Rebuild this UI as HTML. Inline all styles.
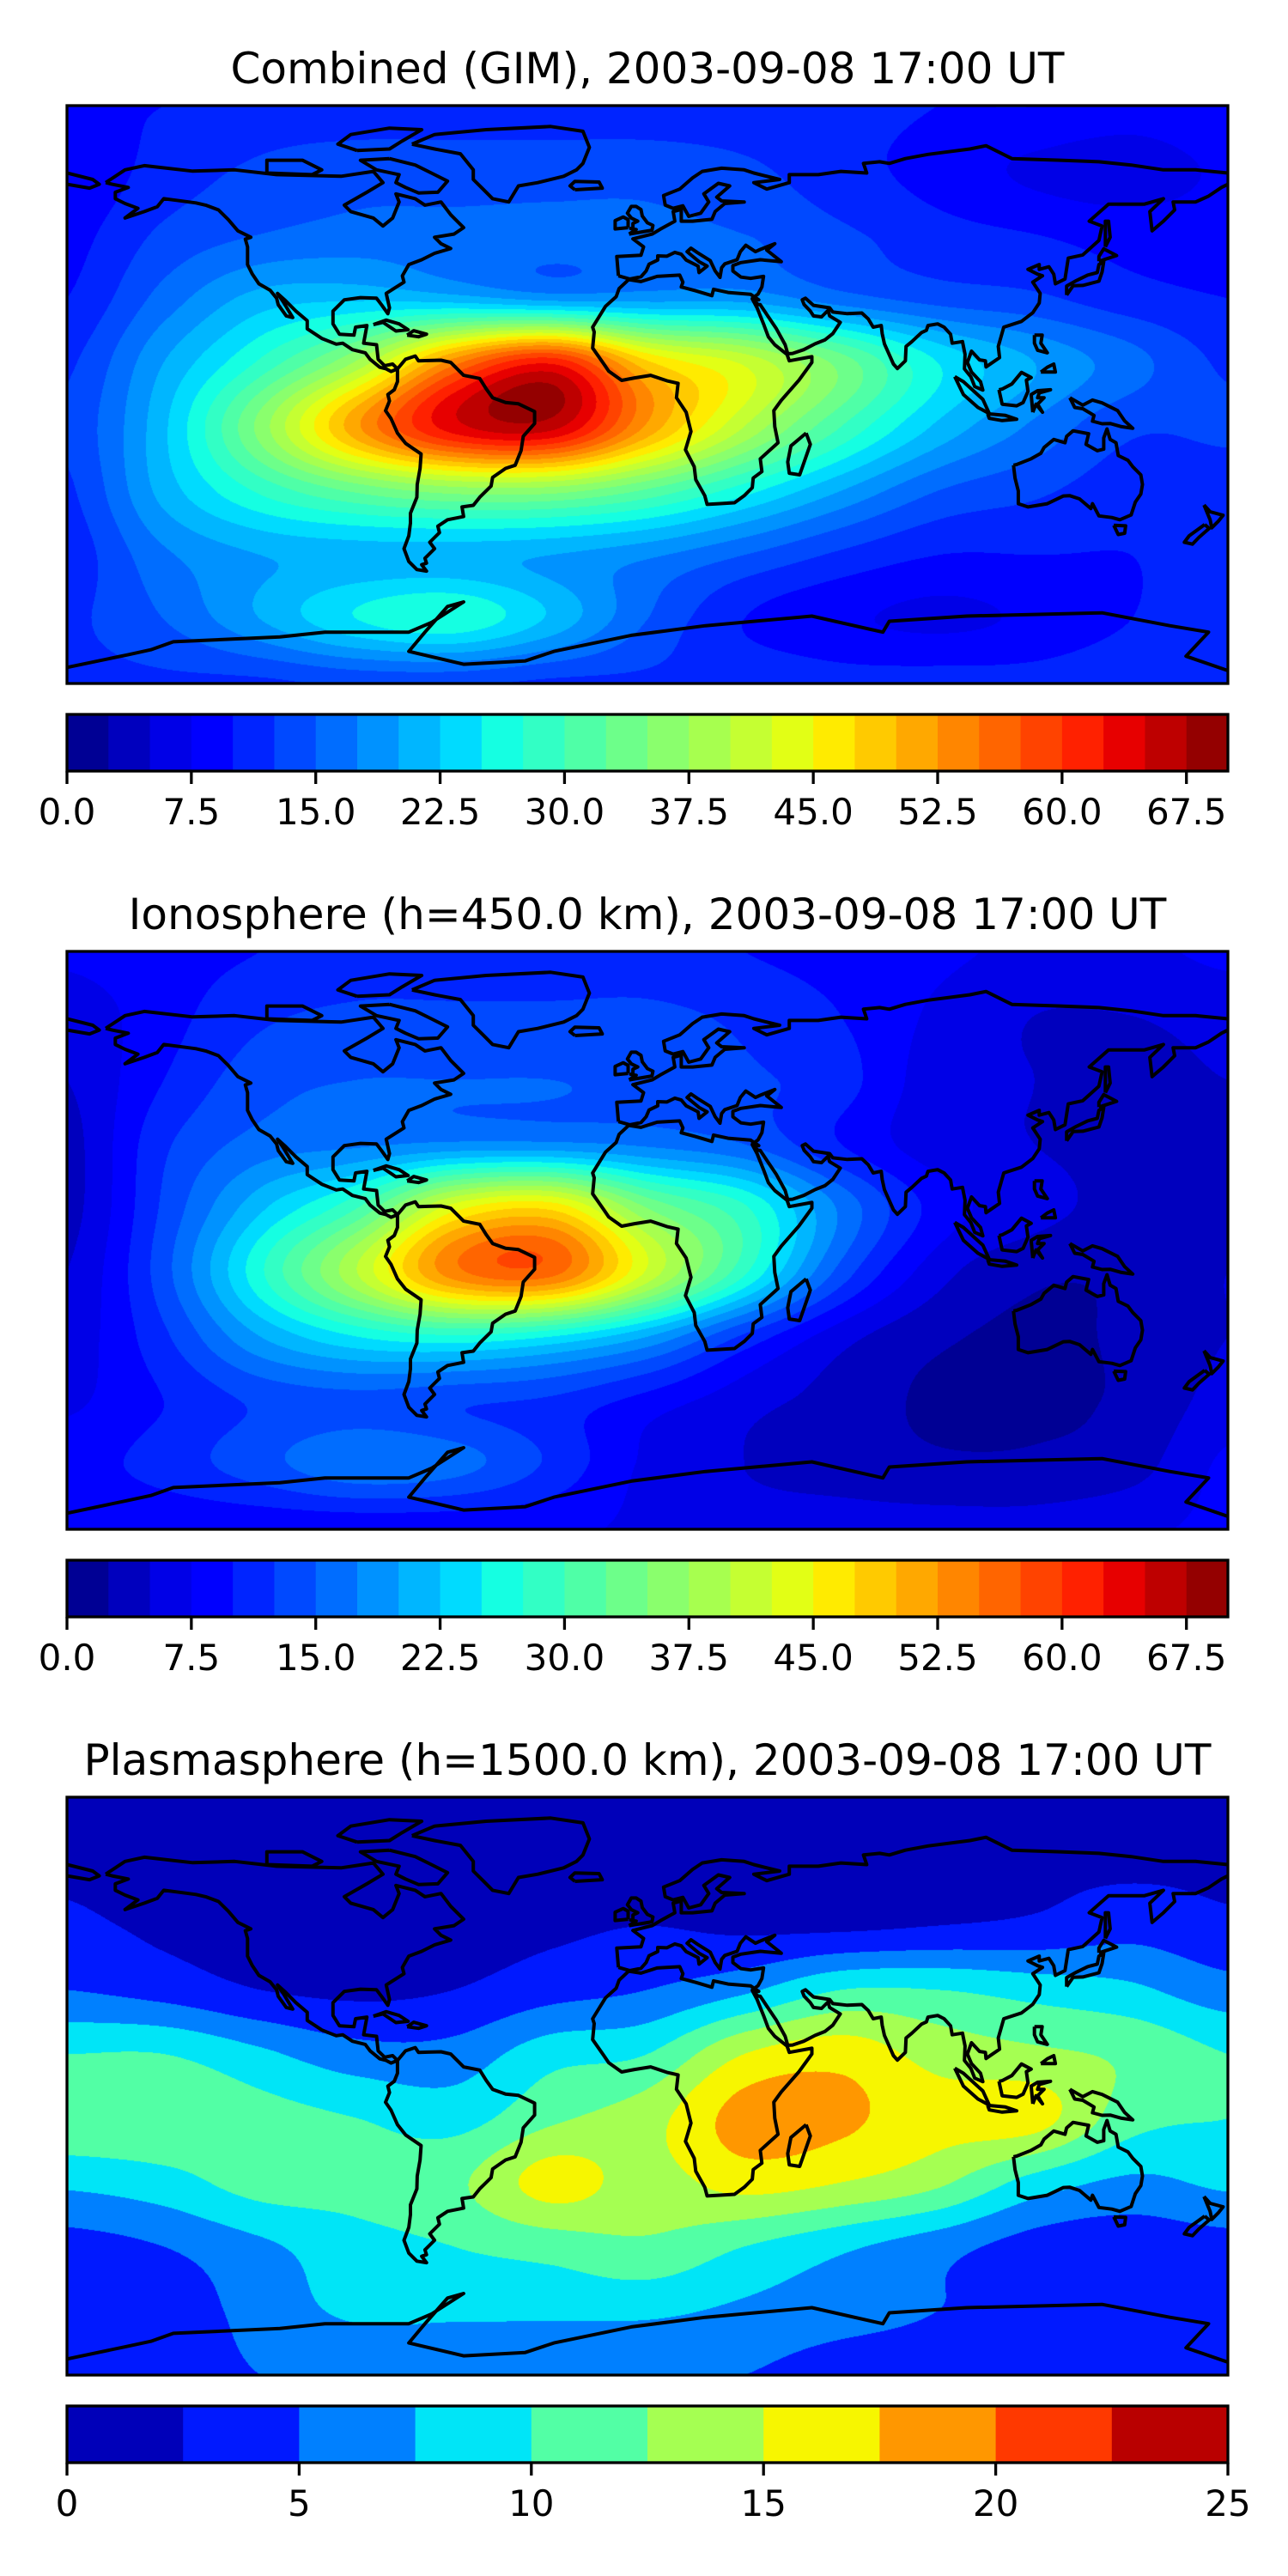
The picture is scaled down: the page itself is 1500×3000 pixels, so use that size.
<!DOCTYPE html>
<html><head><meta charset="utf-8">
<style>
html,body{margin:0;padding:0;background:#fff;}
body{width:1500px;height:3000px;position:relative;overflow:hidden;font-family:"DejaVu Sans","Liberation Sans",sans-serif;}
canvas{position:absolute;}
svg{position:absolute;left:0;top:0;}
</style></head>
<body>
<canvas id="c0" width="1352" height="673" style="left:78px;top:123px"></canvas>
<canvas id="c1" width="1352" height="673" style="left:78px;top:1108px"></canvas>
<canvas id="c2" width="1352" height="673" style="left:78px;top:2093px"></canvas>
<svg id="ov" width="1500" height="3000" xmlns="http://www.w3.org/2000/svg"></svg>
<script>
const lons=[-180,-150,-120,-90,-60,-30,0,30,60,90,120,150,180];
const lats=[90,70,50,30,10,-10,-30,-50,-70,-90];
const gimValues=[
[10,10,11,11,11,11,11,11,11,10,10,9,10],
[8,11,13,14,14,14,14,13,11,9,7,6,8],
[9,13,15,16,16,16,16,15,13,11,10,9,9],
[10,16,21,22,21,19,19,19,16,14,13,11,10],
[12,20,28,38,54,62,48,42,34,25,20,16,12],
[13,22,36,52,64,66,52,40,30,22,17,13,13],
[12,21,28,33,36,36,32,26,20,15,13,11,11],
[11,17,20,21,21,20,18,15,12,10,10,10,11],
[12,15,20,25,27,22,15,10,8,7,8,10,12],
[12,12,12,13,13,12,12,12,11,11,11,12,12]];
const ionoValues=[
[8,9,10,11,11,11,11,10,9,8,7,7,8],
[6,9,12,13,13,13,13,12,10,7,5,5,6],
[5,10,14,15,15,15,14,13,11,6,5,4,5],
[4,12,16,17,18,18,17,15,10,6,5,4,4],
[4,13,22,30,44,47,35,28,17,9,6,4,4],
[5,14,27,40,54,56,42,28,14,6,3,3,5],
[6,12,20,25,27,25,20,12,6,3,2,3,5],
[7,10,13,14,13,12,9,6,4,2,2,3,6],
[9,11,14,17,16,12,7,5,4,3,3,4,8],
[8,8,8,8,8,8,7,6,6,6,6,7,8]];
const plasmaValues=[
[1.5,1.5,1.5,1.5,1.5,1.5,1.5,1.5,1.5,1.5,1.5,1.5,1.5],
[2,1.5,1.5,1.5,1.5,1.5,1.5,1.5,1.5,1.5,2,2,2],
[3,2,1.5,1.5,1.5,2,2.5,2,2,2.5,3,4,3],
[5,4,2.5,2,2.5,4,5,7,10,10,9,8,6],
[10,10,8,6,6,9,10,15,16.5,14,13,12,10],
[12,12,11,10,9,12,14,18.5,18,16,16,11,10],
[8,9,11,11,12,16,14,16,15,13,9,7,8],
[4,5,7,9,10,11,12,10,8,6,4,3.5,4],
[3,3.5,6,8,8,8,8,7,6,5,4,3.5,3],
[4,4,5,5,5,5,5,5,4,4,4,4,4]];
const tecLevelStep=2.5;
const tecLevelCount=28;
const plasmaLevelStep=2.5;
const plasmaLevelCount=10;
const tecTickLabels=["0.0","7.5","15.0","22.5","30.0","37.5","45.0","52.5","60.0","67.5"];
const tecTickValues=[0,7.5,15,22.5,30,37.5,45,52.5,60,67.5];
const plasmaTickLabels=["0","5","10","15","20","25"];
const plasmaTickValues=[0,5,10,15,20,25];
const titles=["Combined (GIM), 2003-09-08 17:00 UT","Ionosphere  (h=450.0 km), 2003-09-08 17:00 UT","Plasmasphere (h=1500.0 km), 2003-09-08 17:00 UT"];

const coasts=[
[[-168,66],[-162,70],[-156,71.3],[-141,69.6],[-128,70],[-115,68.5],[-95,68],[-85,69.5],[-82,66],[-87,63],[-94,59],[-92,57],[-85,55],[-82,52.5],[-79,55],[-77,60],[-78,62.5],[-72,61],[-69,59],[-64,60],[-61,56],[-57,52],[-60,50],[-66,49],[-64,47],[-61,45.5],[-66,44],[-70,42],[-74,40.5],[-76,37],[-75.5,35],[-81,31.5],[-80,27],[-80.5,25.2],[-82.5,28],[-84,30],[-89,30.2],[-94,29.5],[-97.5,26],[-97.5,22],[-95.5,18.8],[-91,18.5],[-90.5,21],[-87,21.5],[-88,16],[-84,15.5],[-83.5,11],[-81.5,9],[-79,9.5],[-77.5,8],[-79.5,7.2],[-81,8],[-83,8.5],[-86,11],[-87.5,13],[-91.5,14],[-94.5,16],[-96.5,15.7],[-101,17.5],[-105.5,20.5],[-105.5,23],[-109,26],[-112.5,29.5],[-114.7,31.5],[-113,29],[-110,24],[-112,24.5],[-114.5,28],[-115,30],[-117,32.5],[-120.5,34.5],[-122.5,37.5],[-124,40.5],[-124,46],[-124.7,48.4],[-123,49],[-127,51],[-130,54.5],[-133,57.5],[-137,59],[-140,59.7],[-146,60.5],[-150,61],[-152,58.5],[-156,57],[-162,55],[-158,58],[-162,59.5],[-165,61],[-165,63],[-161,64.5],[-166,65.5],[-168,66]],
[[-73,78],[-66,81],[-50,82.5],[-30,83.5],[-20,82],[-18,77],[-20,72],[-22,70],[-26,68],[-34,66],[-40,65],[-43,60],[-48,61],[-51,64],[-54,67],[-54,70],[-58,75],[-66,76.5],[-73,78]],
[[-80,73.5],[-72,71.5],[-67,69],[-62,66.5],[-65,63],[-71,62.8],[-75,64.5],[-78,66],[-77,68.5],[-84,70],[-89,73],[-80,73.5]],
[[-90,76],[-80,76.5],[-76,79],[-70,82.5],[-80,83],[-92,81],[-96,78],[-90,76]],
[[-118,69],[-104,68.5],[-101,70],[-107,73],[-118,73],[-118,69]],
[[-85,21.8],[-81,23.2],[-77,22],[-74.2,20.2],[-78,19.8],[-82,22.5],[-85,21.8]],
[[-74.5,18.5],[-72.5,19.9],[-68.5,18.8],[-71,18],[-74.5,18.5]],
[[-77.5,8],[-75,11],[-72,12],[-71,10.5],[-68,10.6],[-64,10.7],[-61,10],[-57,6],[-52,5],[-50,1.8],[-48,-1],[-44,-2.5],[-40,-2.9],[-35,-5.3],[-35,-9],[-38.5,-13],[-39.2,-17.5],[-41,-22],[-44,-23],[-48,-25.8],[-48.5,-28.5],[-52,-32],[-54,-34.5],[-57.5,-35],[-57,-38],[-62,-39],[-65,-41],[-64.5,-43],[-67.5,-46],[-66,-48],[-69,-51],[-68.5,-52.5],[-70,-53],[-68.5,-55],[-71.5,-54.5],[-74,-52],[-75.5,-48],[-74,-44],[-73.5,-40],[-73.5,-37],[-71.5,-32],[-71.4,-28],[-70.5,-23],[-70.2,-18.5],[-75,-15.2],[-77.5,-12],[-79.5,-7.5],[-81.2,-5],[-80,-2],[-80.5,0],[-78.5,1.5],[-77.5,4],[-77.5,8]],
[[-5.8,35.8],[-2,35.2],[3,36.8],[10,37.2],[11,35],[10.5,33.5],[15,32.3],[20,30.8],[20.5,32.8],[25,31.8],[32,31.2],[34.5,29.5],[32.5,29.8],[34,27],[36,22],[37.5,18],[39.5,15.5],[43.3,12.5],[44,10.5],[51,11.8],[51,10],[47,4.5],[41.5,-1.8],[39.2,-5],[39.5,-10],[40.5,-15],[35,-20],[35.5,-24],[32.8,-26],[32.5,-29],[30,-31.5],[27,-33.7],[22,-34],[18.5,-34.2],[17.8,-31.5],[15,-26.5],[14.5,-22.5],[11.8,-17.2],[13.5,-11.5],[12,-5.5],[9,-1],[9.5,3.5],[6,4.3],[1,6],[-4,5.2],[-8,4.4],[-12,7.3],[-13.5,9.5],[-17,14.5],[-16.5,19.5],[-17,21],[-13,27.5],[-9.7,30.5],[-8.8,33],[-5.8,35.8]],
[[49.2,-12],[50.5,-15.5],[47.2,-25],[44,-24.5],[43.5,-21],[44.5,-16],[49.2,-12]],
[[-9,37],[-9.5,43],[-2,43.4],[-1.2,46],[-4.5,48.5],[1.5,50],[4,51.5],[8.5,54],[8,57],[10.5,57.7],[10.5,54],[14,54],[20,54.6],[21,57],[24,59.5],[30,60],[23,60.3],[21.5,61.5],[25.5,65],[22,65.8],[17.5,62.5],[19,60],[16.5,56.5],[12.8,55.5],[11,58.8],[8,58],[5.5,59],[5,62],[10,64],[14,67.5],[17,69.5],[23,70.5],[30,70],[33,69],[41,67],[33,66],[37,64],[44,66],[44,68.5],[53,68.5],[60,69.5],[68,69],[67,72],[72,72.5],[75,72],[80,73.5],[87,74.8],[100,76.5],[105,77.5],[113,73.5],[128,73],[140,72.5],[150,71.5],[160,70],[170,70],[180,69]],
[[180,65.5],[178,64.5],[174,61.8],[170,60],[163,60],[163.5,57.5],[160,54],[156.5,51],[155.8,57],[160,61],[154,59.3],[143,59.3],[137,54],[141,52.5],[140,48],[135,43.5],[130.5,42.5],[129.5,36],[126.5,34.5],[126,37.5],[124.5,39.8],[121.5,39],[121.5,40.5],[118,39],[121,37.5],[122.5,37],[119.5,35],[121.8,31.5],[121.5,28.5],[119.5,25.5],[116,22.8],[110.5,21],[108.8,15],[109.2,11.5],[105,8.6],[104.8,10.5],[103,10.8],[100.5,13.5],[99.2,10],[100.5,7],[103.3,4],[104,1.4],[101.5,2.5],[100.3,5.5],[98.3,8],[98.5,12.5],[97.7,16.5],[94.5,16],[94,18.8],[92,21],[90,22],[87,21.5],[86.5,20],[85,19.3],[82,16.5],[80.2,15],[80,10.5],[77.5,8.1],[76.3,9.5],[73.5,15.8],[72.8,19],[72.5,21.5],[70,21],[68.5,23.5],[66.5,25.4],[62,25.2],[57.5,25.7],[56.5,27],[51.5,27.8],[49,30],[48,29.5],[48.6,28],[50.5,26],[51.5,24.5],[54,24.2],[56,26.2],[56.5,24.5],[59.8,22.5],[57.5,19],[55,17],[52,15.8],[48.5,14],[45,12.8],[43.5,12.7],[42.7,15.5],[40,20.5],[37.3,24.5],[35,28],[34.3,28],[32.6,30],[34.3,31.3],[35.5,33.5],[36,36.8],[32,36.2],[29,36.6],[26.5,38.5],[26.5,40.2],[29,41.1],[35,42],[41.5,41.4],[37,45],[39.5,47],[35,45.2],[33.5,44.5],[30.5,46.5],[28.8,44.5],[27.8,42],[24,40.7],[23,39.5],[22.5,36.5],[21,38.5],[19.5,41.7],[15.5,44.2],[13.5,45.6],[12.3,44.5],[16,41.4],[18.5,40],[16,38],[15.7,40],[12,41.9],[10.5,43.7],[8.5,44.3],[6,43.1],[3.2,43.2],[3.2,41.9],[0.5,40.6],[-0.4,38.5],[-2,36.7],[-5.5,36],[-9,37]],
[[-180,69],[-172,67],[-170,65.5],[-173,64.3],[-180,65.5]],
[[-5.7,50],[1.4,51.2],[1.7,52.7],[0,53.5],[-1.6,55.6],[-2,57.6],[-3.5,58.6],[-5,58.6],[-6.2,56.5],[-5,55],[-3,54],[-4.5,53.3],[-4.5,52],[-5.2,51.7],[-3.5,51.4],[-5.7,50]],
[[-6,52],[-6,54.5],[-7.5,55.3],[-10,54.2],[-10,51.6],[-6,52]],
[[-22.5,63.8],[-14,64.3],[-15,66.2],[-22.5,66.4],[-24,65],[-22.5,63.8]],
[[130,31],[132,33.9],[135,34],[140,35.3],[141,38.2],[141.5,41.4],[140,40.5],[139.5,38],[136.5,37.2],[133,35.5],[130,33.8],[130,31]],
[[140,41.5],[145.5,43.3],[141.5,45.4],[140,43],[140,41.5]],
[[142,46],[143.5,49],[143,54],[142,54],[142,46]],
[[95.3,5.6],[98,4],[104,-1.5],[106,-5.9],[102.5,-4],[98,0],[95.3,5.6]],
[[105.5,-6],[111,-6.5],[114.5,-7.7],[110,-8.1],[106,-7.4],[105.5,-6]],
[[109,1.5],[110,-3],[114.5,-3.5],[116.5,-2.5],[118,1],[117.5,4.5],[119,5.3],[116,6.9],[113,3.3],[110,1.7],[109,1.5]],
[[119.5,-5.5],[119,0],[121,1.2],[125,1.5],[121.5,0.5],[121,-1],[123,-1],[121,-3],[122.5,-5.5],[120.5,-3],[119.5,-5.5]],
[[131,-1],[135,-3.3],[138,-1.7],[141,-2.6],[145.8,-5],[148,-8.2],[150.5,-10.5],[147,-10],[143.5,-9],[141,-9.1],[138,-8.3],[138.5,-6.5],[135,-4.4],[132.5,-4],[131,-1]],
[[120,18.5],[122.4,18.5],[122,16],[124,13],[121,13.8],[120,16],[120,18.5]],
[[122,7],[126.5,7],[126,9.5],[124,8.5],[122,7]],
[[113.5,-22],[114,-26],[115,-30],[115,-34],[118,-35],[124,-34],[129,-31.6],[131,-31.5],[134,-32.5],[137.5,-35.5],[138,-34],[140,-37.8],[144,-38.3],[146.5,-39],[150,-37.5],[151.3,-33.5],[153,-31],[153.5,-28],[153,-25],[150.5,-22.5],[149,-20.5],[146,-19],[145.3,-15],[143.5,-14],[142.5,-10.7],[141.5,-13.5],[141.5,-17],[139.5,-17.5],[136,-15.5],[136.8,-12.2],[132,-11.3],[130,-13],[129.5,-15],[126,-14],[123,-16.5],[122,-18.3],[119,-20],[114.5,-21.8],[113.5,-22]],
[[144.6,-40.7],[148.3,-40.9],[148,-43.2],[146,-43.6],[144.6,-40.7]],
[[172.6,-34.4],[174.5,-36.5],[178.5,-37.6],[177,-39.5],[175,-41.5],[174.5,-39],[172.6,-34.4]],
[[172.8,-40.5],[174.2,-41.7],[171,-44.5],[169,-46.6],[166.5,-46],[168,-44],[172.8,-40.5]],
[[-180,-85],[-161,-81],[-154,-79.5],[-147,-77],[-114,-75.5],[-100,-74],[-74,-74],[-67,-71],[-57,-64.6],[-62,-66],[-69,-74],[-74,-80],[-57,-84],[-38,-83],[-29,-80],[-5,-75],[18,-72],[51,-69],[73,-74],[75,-70.6],[99,-69],[141,-68],[162,-72],[174,-74],[167,-81.5],[180,-86]]
];

const MX=78,MW=1352,MH=673;
const mapTops=[123,1108,2093];

function jet(x){
  function seg(p,x){for(let i=0;i<p.length-1;i++){if(x<=p[i+1][0]){const t=(x-p[i][0])/(p[i+1][0]-p[i][0]);return p[i][1]+t*(p[i+1][1]-p[i][1]);}}return p[p.length-1][1];}
  const r=seg([[0,0],[0.35,0],[0.66,1],[0.89,1],[1,0.5]],x);
  const g=seg([[0,0],[0.125,0],[0.375,1],[0.64,1],[0.91,0],[1,0]],x);
  const b=seg([[0,0.5],[0.11,1],[0.34,1],[0.65,0],[1,0]],x);
  return [Math.round(r*255),Math.round(g*255),Math.round(b*255)];
}
function cr(p0,p1,p2,p3,t){return 0.5*((2*p1)+(-p0+p2)*t+(2*p0-5*p1+4*p2-p3)*t*t+(-p0+3*p1-3*p2+p3)*t*t*t);}
function sample(grid,lon,lat){
  const nx=lons.length,ny=lats.length;
  const fx=(lon-lons[0])/(lons[1]-lons[0]);
  const fy=(lats[0]-lat)/(lats[0]-lats[1]);
  let ix=Math.min(Math.floor(fx),nx-2),iy=Math.min(Math.floor(fy),ny-2);
  const tx=fx-ix,ty=fy-iy;
  const cx=i=>Math.max(0,Math.min(nx-1,i)),cy=j=>Math.max(0,Math.min(ny-1,j));
  const rows=[];
  for(let j=-1;j<=2;j++){const r=grid[cy(iy+j)];rows.push(cr(r[cx(ix-1)],r[cx(ix)],r[cx(ix+1)],r[cx(ix+2)],tx));}
  return cr(rows[0],rows[1],rows[2],rows[3],ty);
}
function drawMap(id,grid,step,n){
  const c=document.getElementById(id),ctx=c.getContext('2d');
  const img=ctx.createImageData(MW,MH);
  const pal=[];for(let i=0;i<n;i++)pal.push(jet((i+0.5)/n));
  for(let y=0;y<MH;y++){const lat=90-(y+0.5)/MH*180;
    for(let x=0;x<MW;x++){const lon=-180+(x+0.5)/MW*360;
      let v=sample(grid,lon,lat);let i=Math.floor(v/step);if(i<0)i=0;if(i>n-1)i=n-1;
      const col=pal[i],k=(y*MW+x)*4;img.data[k]=col[0];img.data[k+1]=col[1];img.data[k+2]=col[2];img.data[k+3]=255;}}
  ctx.putImageData(img,0,0);
}
drawMap('c0',gimValues,tecLevelStep,tecLevelCount);
drawMap('c1',ionoValues,tecLevelStep,tecLevelCount);
drawMap('c2',plasmaValues,plasmaLevelStep,plasmaLevelCount);

const NS='http://www.w3.org/2000/svg';
const ov=document.getElementById('ov');
function mk(tag,attrs,parent){const e=document.createElementNS(NS,tag);for(const k in attrs)e.setAttribute(k,attrs[k]);(parent||ov).appendChild(e);return e;}
const defs=mk('defs',{});
const panelNames=['combined','ionosphere','plasmasphere'];
for(let p=0;p<3;p++){
  const top=mapTops[p];
  const cp=mk('clipPath',{id:'clip'+p},defs);mk('rect',{x:MX,y:top,width:MW,height:MH},cp);
  const t=mk('text',{x:754,y:top-43+17,'text-anchor':'middle','font-size':'50','font-family':'DejaVu Sans, Liberation Sans, sans-serif','xml:space':'preserve'});
  t.textContent=titles[p];
  
  
  const g=mk('g',{'clip-path':'url(#clip'+p+')',fill:'none',stroke:'#000','stroke-width':'4','stroke-linejoin':'round'});
  
  
  for(const poly of coasts){
    let d='';poly.forEach((q,i)=>{const x=MX+(q[0]+180)/360*MW,y=top+(90-q[1])/180*MH;d+=(i?'L':'M')+x.toFixed(1)+' '+y.toFixed(1);});
    const pa=mk('path',{d:d},g);
    
    
  }
  const fr=mk('rect',{x:MX,y:top,width:MW,height:MH,fill:'none',stroke:'#000','stroke-width':'3.3'});
  
  
  const cbTop=top+709,cbH=66;
  const isP=p===2;
  const n=isP?plasmaLevelCount:tecLevelCount,step=isP?plasmaLevelStep:tecLevelStep;
  const vmax=n*step;
  const cbg=mk('g',{});
  
  
  for(let i=0;i<n;i++){
    const c=jet((i+0.5)/n);
    const x0=MX+i*step/vmax*MW,x1=MX+(i+1)*step/vmax*MW;
    const r=mk('rect',{x:x0,y:cbTop,width:x1-x0+0.6,height:cbH,fill:'rgb('+c.join(',')+')'},cbg);
    
    
  }
  mk('rect',{x:MX,y:cbTop,width:MW,height:cbH,fill:'none',stroke:'#000','stroke-width':'3.3'},cbg);
  const tv=isP?plasmaTickValues:tecTickValues,tl=isP?plasmaTickLabels:tecTickLabels;
  tv.forEach((v,i)=>{
    const x=MX+v/vmax*MW;
    const tk=mk('line',{x1:x,x2:x,y1:cbTop+cbH,y2:cbTop+cbH+15,stroke:'#000','stroke-width':'3.3'},cbg);
    
    
    const lb=mk('text',{x:x,y:cbTop+cbH+62,'text-anchor':'middle','font-size':'42','font-family':'DejaVu Sans, Liberation Sans, sans-serif'},cbg);
    lb.textContent=tl[i];
    
    
  });
}
</script>
</body></html>
